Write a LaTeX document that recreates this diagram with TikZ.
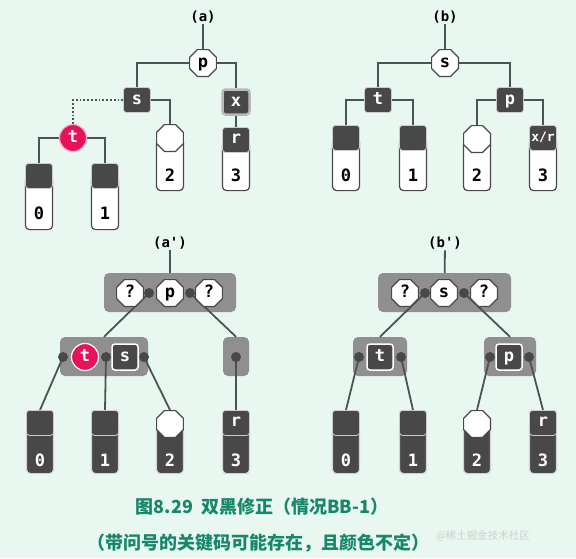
\documentclass[tikz,border=0pt]{standalone}
\usepackage{fontspec}
\setmonofont{DejaVu Sans Mono}
\newfontfamily\cjk{Noto Sans CJK SC}
\usetikzlibrary{shapes.geometric}
\definecolor{mint}{RGB}{232,248,240}
\definecolor{ink}{RGB}{72,72,72}
\definecolor{wire}{RGB}{74,84,80}
\definecolor{grp}{RGB}{143,143,143}
\definecolor{hot}{RGB}{232,18,92}
\definecolor{capc}{RGB}{22,135,106}
\pgfdeclarelayer{back}
\pgfdeclarelayer{edges}
\pgfsetlayers{back,edges,main}
\tikzset{
  lbl/.style={font=\ttfamily\bfseries\fontsize{14}{14}\selectfont, inner sep=1pt},
  key/.style={font=\ttfamily\bfseries\fontsize{17}{17}\selectfont, inner sep=0pt, text height=10pt, text depth=2pt},
  num/.style={font=\ttfamily\bfseries\fontsize{17}{17}\selectfont, inner sep=0pt, text height=12pt, text depth=0pt},
  oct/.style={key, regular polygon, regular polygon sides=8, draw=ink, line width=1.2pt, fill=white, minimum size=29pt},
  blk/.style={key, rectangle, rounded corners=3pt, fill=ink, text=white, draw=gray!40, line width=0.8pt, minimum width=27pt, minimum height=25pt},
  xblk/.style={blk, draw=gray!55, line width=2.5pt},
  blkw/.style={blk, draw=white, line width=1.5pt, minimum size=26pt},
  redn/.style={key, circle, fill=hot, text=white, draw=white, line width=1.2pt, minimum size=27pt},
  body/.style={rectangle, rounded corners=4pt, draw=ink, fill=white, line width=1.2pt, minimum width=27pt, anchor=north},
  bodyd/.style={body, fill=ink, draw=gray!35, text=white},
  group/.style={rectangle, rounded corners=5pt, fill=grp, minimum height=39pt},
  dot/.style={circle, fill=ink, minimum size=10pt, inner sep=0pt},
  wire/.style={draw=wire, line width=1.8pt},
  captxt/.style={font=\cjk\bfseries\fontsize{18}{18}\selectfont, text=capc, inner sep=0pt}
}
\begin{document}
\begin{tikzpicture}[x=1pt, y=-1pt]
\useasboundingbox (0,0) rectangle (576,558);
\begin{pgfonlayer}{back}
\fill[mint] (0,0) rectangle (576,558);
\end{pgfonlayer}
% (a)
\node[lbl] (la) at (203,17) {(a)};
\node[oct] (pa) at (203,63) {p};
\node[blk] (sa) at (137,100) {s};
\node[xblk] (xa) at (236,102) {x};
\node[redn, draw=hot!35] (ta) at (73,138) {t};
\node[body, minimum height=53pt] (a0b) at (39,176) {};
\node[blk, anchor=north] (a0) at (39,163) {};
\node[num] at (39,213) {0};
\node[body, minimum height=53pt] (a1b) at (105,176) {};
\node[blk, anchor=north] (a1) at (105,163) {};
\node[num] at (105,213) {1};
\node[body, minimum height=52pt] (a2b) at (170,138) {};
\node[oct] (a2) at (170,138) {};
\node[num] at (170,175) {2};
\node[body, minimum height=50pt] (a3b) at (236,140) {};
\node[blk, anchor=north] (a3) at (236,127) {r};
\node[num] at (236,175) {3};
\begin{pgfonlayer}{edges}
\draw[wire] (la) -- (pa);
\draw[wire] (pa) -| (sa);
\draw[wire] (pa) -| (xa);
\draw[wire] (sa) -| (a2);
\draw[wire, dotted] (sa) -| (ta);
\draw[wire] (ta) -| (a0);
\draw[wire] (ta) -| (a1);
\draw[wire] (xa) -- (a3);
\end{pgfonlayer}
% (b)
\node[lbl] (lb) at (445,17) {(b)};
\node[oct] (sb) at (445,63) {s};
\node[blk] (tb) at (378,100) {t};
\node[blk] (pb) at (510,100) {p};
\node[body, minimum height=52pt] (b0b) at (346,138) {};
\node[blk, anchor=north] (b0) at (346,125) {};
\node[num] at (346,175) {0};
\node[body, minimum height=52pt] (b1b) at (413,138) {};
\node[blk, anchor=north] (b1) at (413,125) {};
\node[num] at (413,175) {1};
\node[body, minimum height=51pt] (b2b) at (477,139) {};
\node[oct] (b2) at (477,139) {};
\node[num] at (477,175) {2};
\node[body, minimum height=52pt] (b3b) at (543,138) {};
\node[blk, anchor=north, font=\ttfamily\bfseries\fontsize{13}{13}\selectfont] (b3) at (543,125) {x/r};
\node[num] at (543,175) {3};
\begin{pgfonlayer}{edges}
\draw[wire] (lb) -- (sb);
\draw[wire] (sb) -| (tb);
\draw[wire] (sb) -| (pb);
\draw[wire] (tb) -| (b0);
\draw[wire] (tb) -| (b1);
\draw[wire] (pb) -| (b2);
\draw[wire] (pb) -| (b3);
\end{pgfonlayer}
% (a')
\node[lbl] (lc) at (170,243) {(a')};
\begin{pgfonlayer}{back}
\node[group, minimum width=132pt] (g1) at (170,292.5) {};
\node[group, minimum width=88pt] (g2) at (104,356.5) {};
\node[group, minimum width=26pt] (g3) at (236,356.5) {};
\end{pgfonlayer}
\node[dot] (e1) at (149,293) {};
\node[dot] (e2) at (190,293) {};
\node[oct] (q1) at (130,293) {?};
\node[oct] (pc) at (170,293) {p};
\node[oct] (q2) at (209,293) {?};
\node[dot] (f1) at (63,357) {};
\node[dot] (f2) at (106,357) {};
\node[dot] (f3) at (144,357) {};
\node[dot] (f4) at (236,357) {};
\node[redn] (tc) at (85,357) {t};
\node[blkw] (sc) at (125,357) {s};
\node[bodyd, minimum height=51pt] (c0b) at (40,422) {};
\node[blk, anchor=north] (c0) at (40,410) {};
\node[num, text=white] at (40,460) {0};
\node[bodyd, minimum height=51pt] (c1b) at (105,422) {};
\node[blk, anchor=north] (c1) at (105,410) {};
\node[num, text=white] at (105,460) {1};
\node[bodyd, minimum height=49pt] (c2b) at (170,424) {};
\node[oct] (c2) at (170,424) {};
\node[num, text=white] at (170,460) {2};
\node[bodyd, minimum height=51pt] (c3b) at (236,422) {};
\node[blk, anchor=north] (c3) at (236,410) {r};
\node[num, text=white] at (236,460) {3};
\begin{pgfonlayer}{edges}
\draw[wire] (lc) -- (g1);
\draw[wire] (e1.center) -- (g2.north);
\draw[wire] (e2.center) -- (g3.north);
\draw[wire] (f1.center) -- (c0.north);
\draw[wire] (f2.center) -- (c1.north);
\draw[wire] (f3.center) -- (c2.north);
\draw[wire] (f4.center) -- (c3.north);
\end{pgfonlayer}
% (b')
\node[lbl] (ld) at (445,243) {(b')};
\begin{pgfonlayer}{back}
\node[group, minimum width=133pt] (h1) at (444.5,292.5) {};
\node[group, minimum width=54pt] (h2) at (380,356.5) {};
\node[group, minimum width=52pt] (h3) at (510,356.5) {};
\end{pgfonlayer}
\node[dot] (k1) at (425,293) {};
\node[dot] (k2) at (464,293) {};
\node[oct] (q3) at (405,293) {?};
\node[oct] (sd) at (444,293) {s};
\node[oct] (q4) at (484,293) {?};
\node[dot] (m1) at (359,357) {};
\node[dot] (m2) at (401,357) {};
\node[dot] (m3) at (490,357) {};
\node[dot] (m4) at (529,357) {};
\node[blkw] (td) at (380,357) {t};
\node[blkw] (pd) at (509,357) {p};
\node[bodyd, minimum height=51pt] (d0b) at (346,422) {};
\node[blk, anchor=north] (d0) at (346,410) {};
\node[num, text=white] at (346,460) {0};
\node[bodyd, minimum height=51pt] (d1b) at (413,422) {};
\node[blk, anchor=north] (d1) at (413,410) {};
\node[num, text=white] at (413,460) {1};
\node[bodyd, minimum height=49pt] (d2b) at (477,424) {};
\node[oct] (d2) at (477,424) {};
\node[num, text=white] at (477,460) {2};
\node[bodyd, minimum height=51pt] (d3b) at (543,422) {};
\node[blk, anchor=north] (d3) at (543,410) {r};
\node[num, text=white] at (543,460) {3};
\begin{pgfonlayer}{edges}
\draw[wire] (ld) -- (h1);
\draw[wire] (k1.center) -- (h2.north);
\draw[wire] (k2.center) -- (h3.north);
\draw[wire] (m1.center) -- (d0.north);
\draw[wire] (m2.center) -- (d1.north);
\draw[wire] (m3.center) -- (d2.north);
\draw[wire] (m4.center) -- (d3.north);
\end{pgfonlayer}
% caption
\node[captxt] (cap1) at (262,507) {图8.29\hspace{8pt}双黑修正（情况BB-1）};
\node[captxt] (cap2) at (258,543) {（带问号的关键码可能存在，且颜色不定）};
\node[font=\cjk\fontsize{10.5}{10.5}\selectfont, text=gray!45, opacity=0.8, inner sep=0pt] (mark) at (483,536) {@稀土掘金技术社区};
\end{tikzpicture}
\end{document}
